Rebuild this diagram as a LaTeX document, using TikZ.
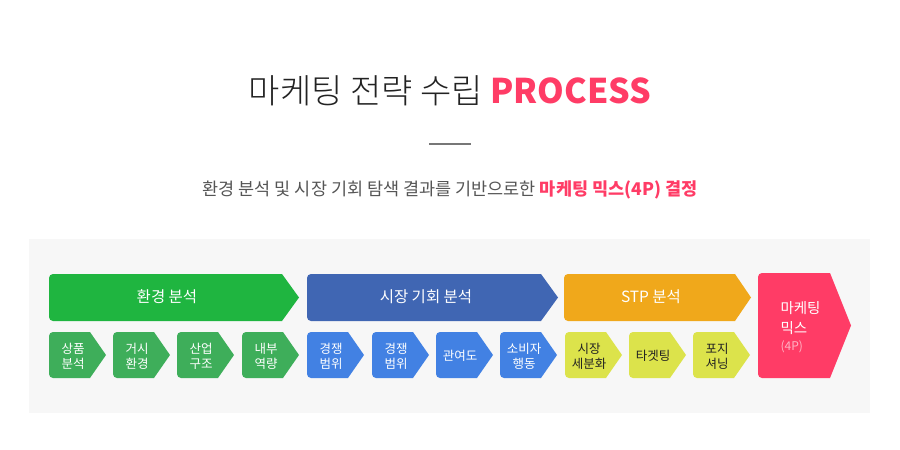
\documentclass[tikz,border=0pt]{standalone}
\usepackage{fontspec}
\setmainfont{Noto Sans CJK KR}
\newfontfamily\krlight{Noto Sans CJK KR Light}
\definecolor{bggray}{HTML}{F7F7F7}
\definecolor{titlegray}{HTML}{222222}
\definecolor{subgray}{HTML}{555555}
\definecolor{rulegray}{HTML}{777777}
\definecolor{mixpink}{HTML}{FF3C66}
\definecolor{softpink}{HTML}{FFB3C4}
\definecolor{envgreen}{HTML}{1FB540}
\definecolor{envlight}{HTML}{3EAE5A}
\definecolor{mktblue}{HTML}{4066B3}
\definecolor{mktlight}{HTML}{4281E3}
\definecolor{stporange}{HTML}{F0A81B}
\definecolor{stplight}{HTML}{DCE34B}

% #1 colour, #2 left, #3 end of body, #4 tip, #5 top, #6 bottom
\newcommand{\chevron}[6]{%
  \begin{scope}
    \clip[rounded corners=4pt] (#2,#5) rectangle (#4+5,#6);
    \fill[#1] (#2,#5) -- (#3,#5) -- (#4,{(#5+#6)/2}) -- (#3,#6) -- (#2,#6) -- cycle;
  \end{scope}}

\tikzset{
  bigtext/.style={text=white, font=\fontsize{15.5}{18}\selectfont},
  smalltext/.style={align=center, font=\fontsize{12.5}{15}\selectfont, inner sep=0pt}
}

\begin{document}
\begin{tikzpicture}[x=1pt,y=-1pt]
  \useasboundingbox (0,0) rectangle (900,450);

  % heading
  \node[text=titlegray, font=\fontsize{34}{40}\selectfont] (title) at (450,91)
    {{\krlight 마케팅 전략 수립} \textbf{\color{mixpink}PROCESS}};
  \draw[rulegray, line width=2pt] (429,144) -- (471,144);
  \node[text=subgray, font=\fontsize{17.5}{20}\selectfont] (sub) at (450,190)
    {환경 분석 및 시장 기회 탐색 결과를 기반으로한 \textbf{\color{mixpink}마케팅 믹스(4P) 결정}};

  % panel
  \fill[bggray] (29,239) rectangle (870,413);

  % main steps
  \chevron{envgreen}{49}{282}{299}{274}{321}
  \node[bigtext] (env) at (167,297) {환경 분석};
  \chevron{mktblue}{307}{541}{558}{274}{321}
  \node[bigtext] (mkt) at (426,297) {시장 기회 분석};
  \chevron{stporange}{564}{735}{751}{274}{321}
  \node[bigtext] (stp) at (651,297) {STP 분석};
  \chevron{mixpink}{758}{830}{851}{273}{378}
  \node[text=white, anchor=west, align=left, font=\fontsize{14.5}{20}\selectfont] (mix) at (777,327)
    {마케팅\\믹스\\[-3pt]{\fontsize{12}{14}\selectfont\color{softpink}(4P)}};

  % sub steps
  \foreach \x/\lbl [count=\i] in {49/{상품\\분석}, 113/{거시\\환경}, 177/{산업\\구조}, 242/{내부\\역량}}
  {
    \chevron{envlight}{\x}{\x+41}{\x+57}{332}{378}
    \node[smalltext, text=white] (env\i) at (\x+24,356) {\lbl};
  }
  \foreach \x/\lbl [count=\i] in {307/{경쟁\\범위}, 372/{경쟁\\범위}, 436/{관여도}, 500/{소비자\\행동}}
  {
    \chevron{mktlight}{\x}{\x+41}{\x+57}{332}{378}
    \node[smalltext, text=white] (mkt\i) at (\x+24,356) {\lbl};
  }
  \foreach \x/\lbl [count=\i] in {565/{시장\\세분화}, 629/{타겟팅}, 693/{포지\\셔닝}}
  {
    \chevron{stplight}{\x}{\x+41}{\x+57}{332}{378}
    \node[smalltext, text=titlegray] (stp\i) at (\x+24,356) {\lbl};
  }
\end{tikzpicture}
\end{document}
